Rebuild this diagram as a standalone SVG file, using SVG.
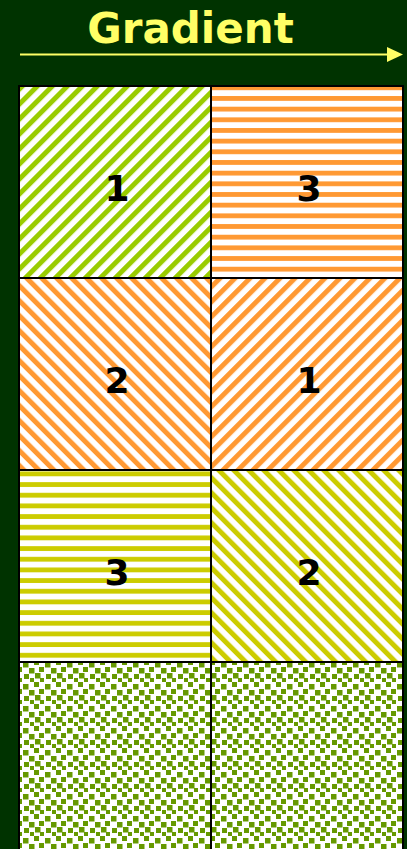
<svg xmlns="http://www.w3.org/2000/svg" width="407" height="849" viewBox="0 0 407 849">
<style>
.num{font-family:"DejaVu Sans","Verdana",sans-serif;font-weight:bold;font-size:36px;fill:#000;text-anchor:middle}
.title{font-family:"DejaVu Sans","Verdana",sans-serif;font-weight:bold;font-size:42px;fill:#FFFF66;text-anchor:middle}
.grid{fill:none;stroke:#000;stroke-width:2}
</style>
<defs>
<pattern id="upGreen" patternUnits="userSpaceOnUse" width="10.6" height="20" patternTransform="rotate(45)">
<rect width="10.6" height="20" fill="#fff"/><rect width="5" height="20" fill="#99CC00"/></pattern>
<pattern id="hOrange" patternUnits="userSpaceOnUse" width="20" height="10.67">
<rect width="20" height="10.67" fill="#fff"/><rect y="0" width="20" height="4.8" fill="#FF9933"/></pattern>
<pattern id="downOrange" patternUnits="userSpaceOnUse" width="10.6" height="20" patternTransform="rotate(-45)">
<rect width="10.6" height="20" fill="#fff"/><rect width="5" height="20" fill="#FF9933"/></pattern>
<pattern id="upOrange" patternUnits="userSpaceOnUse" width="10.6" height="20" patternTransform="rotate(45)">
<rect width="10.6" height="20" fill="#fff"/><rect width="5" height="20" fill="#FF9933"/></pattern>
<pattern id="hYellow" patternUnits="userSpaceOnUse" width="20" height="10.67">
<rect width="20" height="10.67" fill="#fff"/><rect y="2" width="20" height="4.8" fill="#CCCC00"/></pattern>
<pattern id="downYellow" patternUnits="userSpaceOnUse" width="10.6" height="20" patternTransform="rotate(-45)">
<rect width="10.6" height="20" fill="#fff"/><rect width="5" height="20" fill="#CCCC00"/></pattern>
<pattern id="confetti" patternUnits="userSpaceOnUse" width="22" height="22">
<rect width="22" height="22" fill="#fff"/>
<g fill="#669900">
<rect x="1" y="2" width="5.5" height="5.5"/><rect x="12" y="0" width="5" height="5"/>
<rect x="7" y="8" width="5.5" height="5.5"/><rect x="17" y="7" width="5" height="5"/>
<rect x="2" y="14" width="5" height="5"/><rect x="13" y="13" width="5.5" height="5.5"/>
<rect x="8" y="18" width="4" height="4"/><rect x="18" y="18" width="4" height="4"/>
</g></pattern>
</defs>
<rect width="407" height="849" fill="#003300"/>
<g id="title">
<text class="title" x="190.5" y="43">Gradient</text>
</g>
<g id="connectors">
<line x1="20" y1="54.5" x2="390" y2="54.5" stroke="#FFFF66" stroke-width="2"/>
<polygon points="387,47 403,54.5 387,62" fill="#FFFF66"/>
</g>
<g id="cell-r1c1"><rect x="19" y="86" width="192" height="192" fill="url(#upGreen)"/><text class="num" x="117" y="201">1</text></g>
<g id="cell-r1c2"><rect x="211" y="86" width="192" height="192" fill="url(#hOrange)"/><text class="num" x="309" y="201">3</text></g>
<g id="cell-r2c1"><rect x="19" y="278" width="192" height="192" fill="url(#downOrange)"/><text class="num" x="117" y="393">2</text></g>
<g id="cell-r2c2"><rect x="211" y="278" width="192" height="192" fill="url(#upOrange)"/><text class="num" x="309" y="393">1</text></g>
<g id="cell-r3c1"><rect x="19" y="470" width="192" height="192" fill="url(#hYellow)"/><text class="num" x="117" y="585">3</text></g>
<g id="cell-r3c2"><rect x="211" y="470" width="192" height="192" fill="url(#downYellow)"/><text class="num" x="309" y="585">2</text></g>
<g id="cell-r4c1"><rect x="19" y="662" width="192" height="192" fill="url(#confetti)"/></g>
<g id="cell-r4c2"><rect x="211" y="662" width="192" height="192" fill="url(#confetti)"/></g>
<g id="gridlines">
<path class="grid" d="M19,860 V86 H403 V860 M211,86 V860 M19,278 H403 M19,470 H403 M19,662 H403"/>
</g>
</svg>
